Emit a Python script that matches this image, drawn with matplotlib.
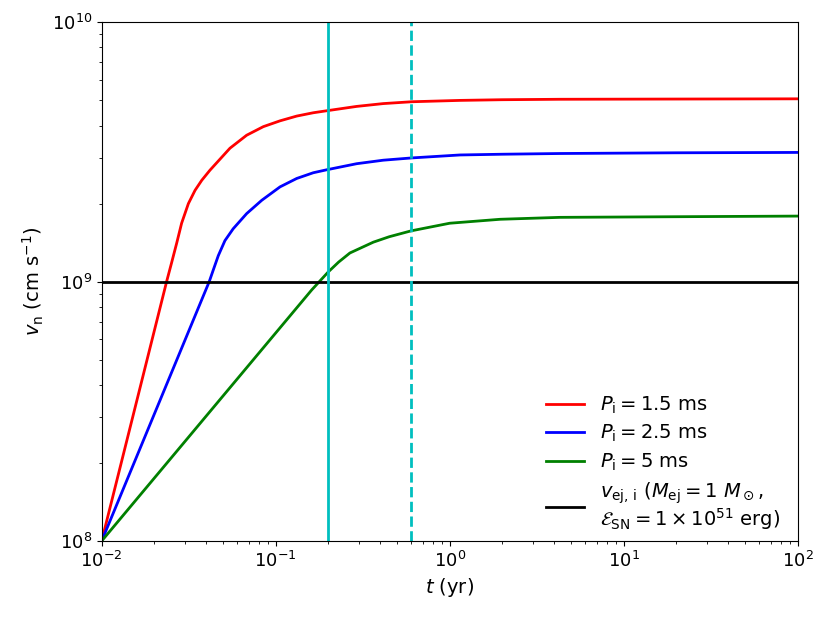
import matplotlib
matplotlib.use("Agg")
import matplotlib.pyplot as plt

# values (t in yr, v in cm/s)
t_p15 = [0.01, 0.0237, 0.0252, 0.0270, 0.0288, 0.0315, 0.0344, 0.0376, 0.0419,
         0.0546, 0.0681, 0.0849, 0.1059, 0.1321, 0.1644, 0.1963, 0.292, 0.415,
         0.605, 1.146, 2.0, 4.3, 20.0, 100.0]
v_p15 = [1.0e8, 1.01e9, 1.18e9, 1.41e9, 1.68e9, 2.00e9, 2.25e9, 2.46e9, 2.69e9,
         3.27e9, 3.67e9, 3.96e9, 4.17e9, 4.35e9, 4.48e9, 4.56e9, 4.74e9, 4.86e9,
         4.94e9, 5.00e9, 5.03e9, 5.05e9, 5.06e9, 5.07e9]

t_p25 = [0.01, 0.0415, 0.0438, 0.0468, 0.0511, 0.0570, 0.0681, 0.0832, 0.1059,
         0.1321, 0.1644, 0.1963, 0.292, 0.415, 0.605, 1.146, 2.0, 4.3, 20.0, 100.0]
v_p25 = [1.0e8, 1.0e9, 1.11e9, 1.26e9, 1.44e9, 1.60e9, 1.83e9, 2.06e9, 2.32e9,
         2.50e9, 2.63e9, 2.70e9, 2.85e9, 2.94e9, 3.00e9, 3.08e9, 3.10e9, 3.12e9,
         3.14e9, 3.15e9]

t_p5 = [0.01, 0.161, 0.2004, 0.23, 0.267, 0.364, 0.449, 0.6, 1.0, 1.95, 4.3, 20.0, 100.0]
v_p5 = [1.0e8, 9.29e8, 1.09e9, 1.19e9, 1.29e9, 1.42e9, 1.49e9, 1.57e9, 1.68e9,
        1.74e9, 1.77e9, 1.78e9, 1.79e9]

v_ej = 1.0e9
t_solid = 0.2
t_dashed = 0.6

plt.rcParams['font.size'] = 14
plt.rcParams['xtick.labelsize'] = 13
plt.rcParams['ytick.labelsize'] = 13

fig = plt.figure(figsize=(8.3, 6.2), dpi=100)
ax = fig.add_axes([0.1225, 0.1274, 0.8386, 0.8366])

ax.plot(t_p15, v_p15, color='r', lw=2, label=r'$P_{\rm i} = 1.5$ ms')
ax.plot(t_p25, v_p25, color='b', lw=2, label=r'$P_{\rm i} = 2.5$ ms')
ax.plot(t_p5, v_p5, color='g', lw=2, label=r'$P_{\rm i} = 5$ ms')
ax.axhline(v_ej, color='k', lw=2,
           label=r'$v_{\rm ej,\,i}$ ($M_{\rm ej} = 1\ M_\odot$,' + '\n'
                 + r'$\mathcal{E}_{\rm SN} = 1\times10^{51}$ erg)')
ax.axvline(t_solid, color='c', lw=2)
ax.axvline(t_dashed, color='c', lw=2, ls='--')

ax.set_xscale('log')
ax.set_yscale('log')
ax.set_xlim(1e-2, 1e2)
ax.set_ylim(1e8, 1e10)
ax.set_xlabel(r'$t$ (yr)')
ax.set_ylabel(r'$v_{\rm n}$ (cm s$^{-1}$)')
leg = ax.legend(loc='lower right', bbox_to_anchor=(1.0, -0.016), frameon=False,
                fontsize=14, labelspacing=0.38)
for txt in leg.get_texts():
    txt.set_linespacing(1.0)

fig.savefig('out.png', dpi=100)
